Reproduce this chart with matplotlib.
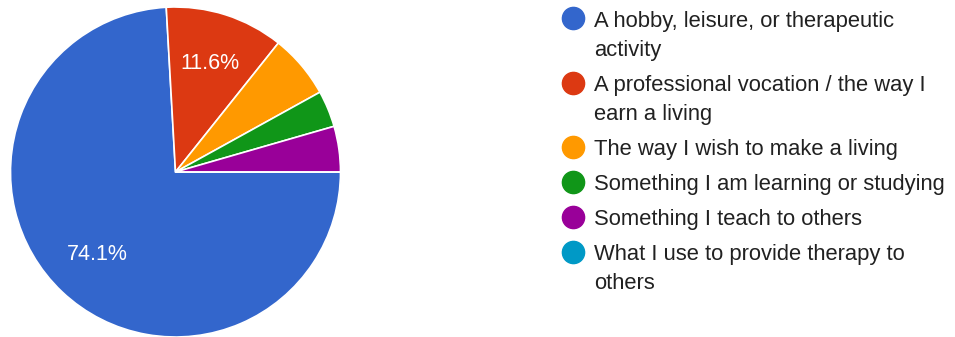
import matplotlib
matplotlib.use("Agg")
import matplotlib.pyplot as plt

plt.rcParams['font.family'] = ['Liberation Sans', 'DejaVu Sans']

# Survey responses per category
categories = [
    "A hobby, leisure, or therapeutic\nactivity",
    "A professional vocation / the way I\nearn a living",
    "The way I wish to make a living",
    "Something I am learning or studying",
    "Something I teach to others",
    "What I use to provide therapy to\nothers",
]
counts = [83, 13, 7, 4, 5, 0]
colors = ["#3366CC", "#DC3912", "#FF9900", "#109618", "#990099", "#0099C6"]

W, H = 955, 337
fig = plt.figure(figsize=(W / 100, H / 100), dpi=100)

# Pie area: centre (175.5, 172) px, radius 165 px
cx, cy, r = 175.5, 172, 165
ax = fig.add_axes([(cx - r) / W, (H - cy - r) / H, 2 * r / W, 2 * r / H])


def pct_label(p):
    return f"{p:.1f}%" if p >= 10 else ""


wedges, texts, autotexts = ax.pie(
    counts, colors=colors, startangle=0, counterclock=False,
    autopct=pct_label, pctdistance=0.69, radius=1.0,
    wedgeprops=dict(edgecolor="white", linewidth=1.2),
    textprops=dict(color="white", fontsize=15.5),
)
ax.set_xlim(-1, 1)
ax.set_ylim(-1, 1)
ax.set_aspect("equal")
ax.axis("off")

# Legend drawn as circle markers with wrapped labels
marker_x = 573
text_x = 594
row_y = [18.3, 83, 147, 182, 217, 252]
line_gap = 29
for label, color, y in zip(categories, colors, row_y):
    fig.add_artist(plt.Line2D([marker_x / W], [1 - y / H], marker="o", markersize=16,
                              color=color, transform=fig.transFigure))
    for i, line in enumerate(label.split("\n")):
        fig.text(text_x / W, 1 - (y + 8.4 + i * line_gap) / H, line, fontsize=15.8,
                 color="#212121", ha="left", va="baseline")

fig.savefig("out.png", dpi=100, facecolor="white")
